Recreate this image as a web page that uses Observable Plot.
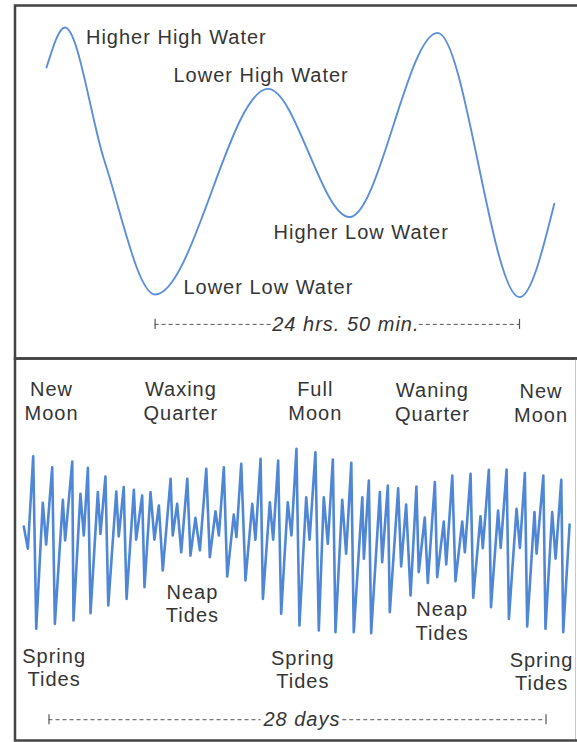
<!DOCTYPE html>
<html>
<head>
<meta charset="utf-8">
<script src="https://cdn.jsdelivr.net/npm/d3@7"></script>
<script src="https://cdn.jsdelivr.net/npm/@observablehq/plot@0.6"></script>
<style>
  html, body { margin: 0; padding: 0; background: #fff; }
  #wrap { position: relative; width: 577px; height: 742px; overflow: hidden; background: #fff; }
  #wrap svg { position: absolute; left: 0; }
</style>
</head>
<body>
<div id="wrap"></div>
<script>
// ---------- Top panel: one lunar day (mixed semidiurnal tide) ----------
const topHours = [-7.4, -6.14, -3.45, 0, 7.7, 13.24, 19.25, 24.83, 27.2];
const topLevel = [8.5, 10.0, 5.0, 0.0, 7.7, 2.9, 9.8, -0.1, 3.4];

const topLabelText  = ["Higher High Water", "Lower High Water", "Higher Low Water", "Lower Low Water"];
const topLabelHour  = [-4.71, 1.25, 8.07, 1.93];
const topLabelLevel = [9.64, 8.2, 2.33, 0.27];

const topSpan = [0, 24.83];
const topSpanGap = [8.0, 18.0];          // where the label interrupts the dashes
const topSpanLabel = "24 hrs. 50 min.";
const topSpanLevel = -1.12;

// ---------- Bottom panel: 28 days of tides ----------
const tideDays = [
  -1.42, -1.19, -0.89, -0.72, -0.35, -0.16, 0.18, 0.33, 0.78, 0.91,
  1.31, 1.38, 1.77, 1.96, 2.19, 2.34, 2.75, 2.90, 3.18, 3.34,
  3.79, 3.93, 4.21, 4.37, 4.78, 4.91, 5.25, 5.38, 5.72, 5.94,
  6.19, 6.41, 6.85, 6.97, 7.22, 7.45, 7.79, 7.97, 8.25, 8.50,
  8.86, 9.06, 9.38, 9.57, 9.85, 10.04, 10.41, 10.56, 10.83, 11.07,
  11.45, 11.63, 11.92, 12.05, 12.44, 12.63, 12.91, 13.08, 13.45, 13.66,
  13.94, 14.11, 14.49, 14.68, 15.01, 15.20, 15.48, 15.71, 15.99, 16.14,
  16.52, 16.74, 17.03, 17.17, 17.65, 17.74, 18.02, 18.15, 18.64, 18.77,
  19.09, 19.20, 19.67, 19.84, 20.12, 20.37, 20.70, 20.83, 21.17, 21.34,
  21.74, 21.87, 22.24, 22.38, 22.72, 22.90, 23.28, 23.43, 23.75, 23.90,
  24.31, 24.44, 24.78, 24.90, 25.30, 25.45, 25.78, 25.91, 26.34, 26.53,
  26.81, 26.94, 27.35, 27.47, 27.85, 27.97, 28.35, 28.54, 28.86, 28.97,
  29.33
];
const tideLevel = [
  5.76, 4.55, 9.57, 0.20, 7.05, 4.78, 8.98, 0.47, 7.21, 5.00,
  9.29, 0.65, 7.54, 5.27, 8.95, 1.05, 7.63, 5.36, 8.48, 1.47,
  7.66, 5.22, 7.90, 1.83, 7.76, 5.05, 7.45, 2.46, 7.63, 5.05,
  6.90, 3.37, 8.35, 5.27, 6.99, 4.36, 8.35, 4.18, 6.23, 4.46,
  8.90, 4.09, 6.59, 5.27, 8.98, 3.04, 6.41, 5.18, 9.17, 2.83,
  6.99, 5.04, 9.44, 1.83, 7.08, 5.05, 9.35, 1.02, 7.08, 5.27,
  9.98, 0.38, 7.35, 5.04, 9.80, 0.11, 7.35, 4.82, 9.40, 0.02,
  7.21, 4.28, 9.22, 0.02, 7.35, 4.01, 8.26, -0.04, 7.63, 3.82,
  7.99, 1.10, 7.84, 3.59, 6.96, 2.01, 7.93, 3.28, 6.25, 2.69,
  8.17, 3.01, 6.03, 3.70, 8.53, 2.79, 6.03, 4.36, 8.63, 1.89,
  6.32, 4.58, 8.84, 1.38, 6.63, 4.60, 8.86, 0.74, 6.72, 4.60,
  8.66, 0.33, 6.54, 4.28, 8.53, 0.20, 6.54, 4.01, 8.30, 0.02,
  5.87
];

const moonText  = ["New\nMoon", "Waxing\nQuarter", "Full\nMoon", "Waning\nQuarter", "New\nMoon"];
const moonDay   = [0.14, 7.43, 15.0, 21.6, 27.72];
const moonLevel = [12.6, 12.6, 12.6, 12.55, 12.5];

const phaseText  = ["Spring\nTides", "Neap\nTides", "Spring\nTides", "Neap\nTides", "Spring\nTides"];
const phaseDay   = [0.29, 8.08, 14.3, 22.15, 27.75];
const phaseLevel = [-1.89, 1.6, -1.97, 0.65, -2.1];

const bottomSpan = [0, 28];
const bottomSpanGap = [11.95, 16.55];
const bottomSpanLabel = "28 days";
const bottomSpanLevel = -4.74;

// ---------- styles ----------
const FONT = "'Liberation Sans', Arial, Helvetica, sans-serif";
const TEXT = "#353535";
const BORDER = "#444";
const DASH = "#555";
const svgStyle = `font-family: ${FONT}; letter-spacing: 1px; background: transparent; overflow: hidden;`;

const topData = topHours.map((h, i) => ({h, level: topLevel[i]}));
const tideData = tideDays.map((d, i) => ({d, level: tideLevel[i]}));

const topChart = Plot.plot({
  width: 577, height: 360,
  marginTop: 5, marginLeft: 14.5, marginRight: -4, marginBottom: 2,
  style: svgStyle,
  x: {axis: null, domain: [0, 24.83], range: [154.6, 519]},
  y: {axis: null, domain: [0, 10], range: [294, 27]},
  marks: [
    Plot.frame({stroke: BORDER, strokeWidth: 2.5}),
    Plot.line(topData, {x: "h", y: "level", curve: "monotone-x", stroke: "#5a8fda", strokeWidth: 1.9}),
    Plot.text(topLabelText, {x: (d, i) => topLabelHour[i], y: (d, i) => topLabelLevel[i], text: d => d,
      textAnchor: "start", fontSize: 20, fontFamily: FONT, fill: TEXT}),
    Plot.ruleY([topSpanLevel, topSpanLevel], {x1: [topSpan[0], topSpanGap[1]], x2: [topSpanGap[0], topSpan[1]],
      stroke: DASH, strokeWidth: 1, strokeDasharray: "4,3"}),
    Plot.ruleX(topSpan, {y1: topSpanLevel - 0.19, y2: topSpanLevel + 0.19, stroke: DASH, strokeWidth: 1.2}),
    Plot.text([topSpanLabel], {x: (topSpanGap[0] + topSpanGap[1]) / 2, y: topSpanLevel, text: d => d,
      fontSize: 20, fontStyle: "italic", fontFamily: FONT, fill: TEXT})
  ]
});
topChart.style.top = "0px";

const bottomChart = Plot.plot({
  width: 577, height: 386,
  marginTop: 2, marginLeft: 14.5, marginRight: 2, marginBottom: 2,
  style: svgStyle,
  x: {axis: null, domain: [0, 28], range: [48.5, 545.5]},
  y: {axis: null, domain: [0, 10], range: [276, 92]},
  marks: [
    Plot.frame({stroke: "#c8c8c8", strokeWidth: 1}),
    Plot.frame({stroke: BORDER, strokeWidth: 2.5, insetRight: -8}),
    Plot.line(tideData, {x: "d", y: "level", stroke: "#4f87d6", strokeWidth: 2.6, strokeLinejoin: "round"}),
    Plot.text(moonText, {x: (d, i) => moonDay[i], y: (d, i) => moonLevel[i], text: d => d,
      fontSize: 20, lineHeight: 1.2, fontFamily: FONT, fill: TEXT}),
    Plot.text(phaseText, {x: (d, i) => phaseDay[i], y: (d, i) => phaseLevel[i], text: d => d,
      fontSize: 20, lineHeight: 1.17, fontFamily: FONT, fill: TEXT}),
    Plot.ruleY([bottomSpanLevel, bottomSpanLevel], {x1: [bottomSpan[0], bottomSpanGap[1]], x2: [bottomSpanGap[0], bottomSpan[1]],
      stroke: DASH, strokeWidth: 1, strokeDasharray: "4,3"}),
    Plot.ruleX(bottomSpan, {y1: bottomSpanLevel - 0.27, y2: bottomSpanLevel + 0.27, stroke: DASH, strokeWidth: 1.2}),
    Plot.text([bottomSpanLabel], {x: (bottomSpanGap[0] + bottomSpanGap[1]) / 2, y: bottomSpanLevel, text: d => d,
      fontSize: 20, fontStyle: "italic", fontFamily: FONT, fill: TEXT})
  ]
});
bottomChart.style.top = "356px";

const wrap = document.getElementById("wrap");
wrap.appendChild(topChart);
wrap.appendChild(bottomChart);
</script>
</body>
</html>
